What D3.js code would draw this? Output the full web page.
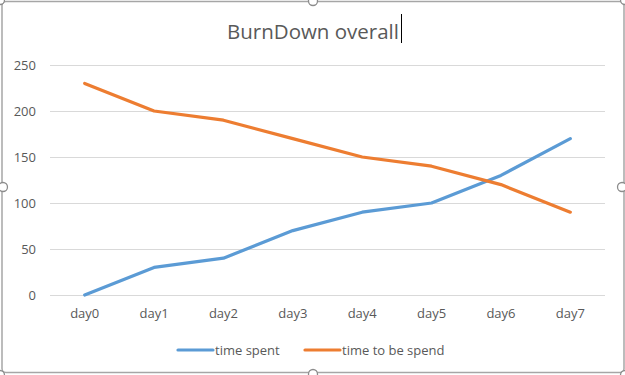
<!DOCTYPE html>
<html>
<head>
<meta charset="utf-8">
<script src="https://cdn.jsdelivr.net/npm/d3@7"></script>
<style>
  body { margin: 0; background: #fff; }
  svg { display: block; }
</style>
</head>
<body>
<div id="chart"></div>
<script>
// chart data
const days = ["day0", "day1", "day2", "day3", "day4", "day5", "day6", "day7"];
const timeSpent = [0, 30, 40, 70, 90, 100, 130, 170];
const timeToBeSpend = [230, 200, 190, 170, 150, 140, 120, 90];
const yTicks = [0, 50, 100, 150, 200, 250];
const seriesNames = ["time spent", "time to be spend"];
const seriesColors = ["#5B9BD5", "#ED7D31"];

const width = 625;
const height = 375;
const font = "'Open Sans', 'Noto Sans', sans-serif";
const textColor = "#595959";

const svg = d3.select("#chart").append("svg")
    .attr("width", width)
    .attr("height", height)
    .style("font-family", font);

// Chart border (selected chart object)
svg.append("rect")
    .attr("x", 2).attr("y", 1.5)
    .attr("width", 622).attr("height", 371)
    .attr("rx", 4)
    .attr("fill", "none")
    .attr("stroke", "#A6A6A6")
    .attr("stroke-width", 1.5);

const x = d3.scaleBand().domain(days).range([50, 605]);
const y = d3.scaleLinear().domain([0, 250]).range([295, 65]);

// Gridlines
svg.append("g")
    .selectAll("line")
    .data(yTicks)
    .join("line")
    .attr("x1", 50).attr("x2", 605)
    .attr("y1", d => Math.round(y(d)) + 0.5)
    .attr("y2", d => Math.round(y(d)) + 0.5)
    .attr("stroke", "#D9D9D9")
    .attr("stroke-width", 1);

// Y axis labels
const yAxis = svg.append("g")
    .attr("transform", "translate(36,0)")
    .call(d3.axisLeft(y).tickValues(yTicks).tickSize(0).tickPadding(0));
yAxis.select(".domain").remove();
yAxis.selectAll("text")
    .attr("fill", textColor)
    .style("font-family", font)
    .style("font-size", "13px");

// X axis labels
const xAxis = svg.append("g")
    .attr("transform", "translate(0,309)")
    .call(d3.axisBottom(x).tickSize(0).tickPadding(0));
xAxis.select(".domain").remove();
xAxis.selectAll("text")
    .attr("fill", textColor)
    .style("font-family", font)
    .style("font-size", "13px");

// Lines
const line = d3.line()
    .x((d, i) => x(days[i]) + x.bandwidth() / 2)
    .y(d => y(d));

[timeSpent, timeToBeSpend].forEach((values, i) => {
    svg.append("path")
        .datum(values)
        .attr("d", line)
        .attr("fill", "none")
        .attr("stroke", seriesColors[i])
        .attr("stroke-width", 3.2)
        .attr("stroke-linejoin", "round")
        .attr("stroke-linecap", "round");
});

// Title
svg.append("text")
    .attr("x", 313)
    .attr("y", 39)
    .attr("text-anchor", "middle")
    .attr("fill", textColor)
    .style("font-size", "20.5px")
    .text("BurnDown overall");

// text cursor
svg.append("line")
    .attr("x1", 401.5).attr("x2", 401.5)
    .attr("y1", 14).attr("y2", 43)
    .attr("stroke", "#000")
    .attr("stroke-width", 1);

// Legend
const legendX = [178, 305];
const legend = svg.append("g");
seriesNames.forEach((name, i) => {
    legend.append("line")
        .attr("x1", legendX[i]).attr("x2", legendX[i] + 35)
        .attr("y1", 350).attr("y2", 350)
        .attr("stroke", seriesColors[i])
        .attr("stroke-width", 3.2)
        .attr("stroke-linecap", "round");
    legend.append("text")
        .attr("x", legendX[i] + 37)
        .attr("y", 354.5)
        .attr("fill", textColor)
        .style("font-size", "13px")
        .text(name);
});

// Selection handles
const handles = [[0, 0], [313, 1], [625, 0], [3, 187], [622, 187], [0, 375], [313, 374], [625, 375]];
svg.append("g")
    .selectAll("circle")
    .data(handles)
    .join("circle")
    .attr("cx", d => d[0]).attr("cy", d => d[1])
    .attr("r", 4.5)
    .attr("fill", "#fff")
    .attr("stroke", "#8C8C8C")
    .attr("stroke-width", 1.3);
</script>
</body>
</html>
